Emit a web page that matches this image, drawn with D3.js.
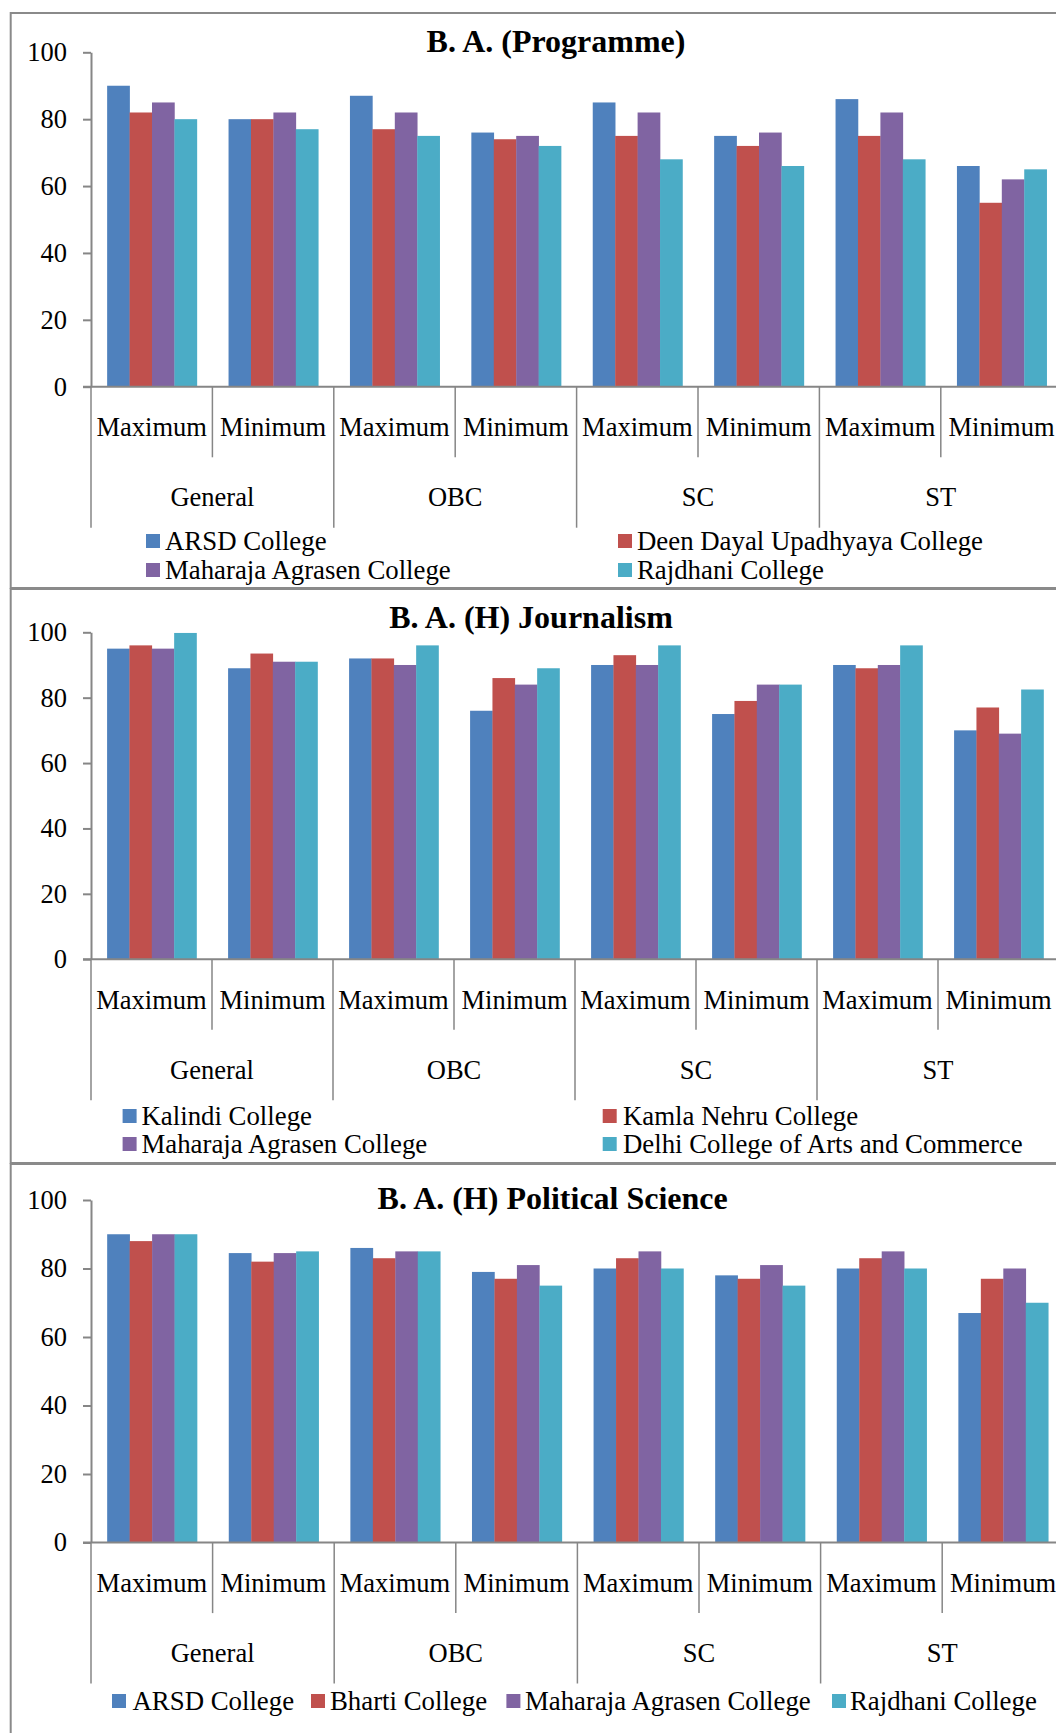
<!DOCTYPE html>
<html><head><meta charset="utf-8">
<script src="https://cdnjs.cloudflare.com/ajax/libs/d3/7.8.5/d3.min.js"></script>
<style>
html,body{margin:0;padding:0;background:#fff;}
svg{display:block;}
text{font-family:"Liberation Serif","Times New Roman",serif;fill:#000;}
</style></head>
<body>
<script>
// ---------- data ----------
const categories = ["General", "OBC", "SC", "ST"];
const subCategories = ["Maximum", "Minimum"];
const yTickValues = [0, 20, 40, 60, 80, 100];
const seriesColors = ["#4F81BD", "#C0504D", "#8064A2", "#4BACC6"];

const titleProgramme = "B. A. (Programme)";
const seriesProgramme = ["ARSD College", "Deen Dayal Upadhyaya College", "Maharaja Agrasen College", "Rajdhani College"];
const progARSD    = [90, 80, 87, 76, 85, 75, 86, 66];
const progDDU     = [82, 80, 77, 74, 75, 72, 75, 55];
const progMAC     = [85, 82, 82, 75, 82, 76, 82, 62];
const progRajdhani= [80, 77, 75, 72, 68, 66, 68, 65];

const titleJournalism = "B. A. (H) Journalism";
const seriesJournalism = ["Kalindi College", "Kamla Nehru College", "Maharaja Agrasen College", "Delhi College of Arts and Commerce"];
const jourKalindi = [95, 89, 92, 76, 90, 75, 90, 70];
const jourKamla   = [96, 93.5, 92, 86, 93, 79, 89, 77];
const jourMAC     = [95, 91, 90, 84, 90, 84, 90, 69];
const jourDCAC    = [99.8, 91, 96, 89, 96, 84, 96, 82.5];

const titlePolSci = "B. A. (H) Political Science";
const seriesPolSci = ["ARSD College", "Bharti College", "Maharaja Agrasen College", "Rajdhani College"];
const polARSD     = [90, 84.5, 86, 79, 80, 78, 80, 67];
const polBharti   = [88, 82, 83, 77, 83, 77, 83, 77];
const polMAC      = [90, 84.5, 85, 81, 85, 81, 85, 80];
const polRajdhani = [90, 85, 85, 75, 80, 75, 80, 70];

// ---------- drawing ----------
const W = 1056, H = 1733;
const svg = d3.select("body").append("svg").attr("width", W).attr("height", H);
const AXIS = "#868686";
const LABEL_FS = 26.5, LEGEND_FS = 26.8, TITLE_FS = 32;

const panels = [
  { title: titleProgramme, series: seriesProgramme, values: [progARSD, progDDU, progMAC, progRajdhani],
    box: [10.7, 13, 588], titleX: 556, titleY: 51.5,
    yTop: 52.3, yBot: 386.7, band: 121.4,
    legend: { rows: [[146, 165, 618, 637, 550], [146, 165, 618, 637, 579]] } },
  { title: titleJournalism, series: seriesJournalism, values: [jourKalindi, jourKamla, jourMAC, jourDCAC],
    box: [10.7, 589, 1163], titleX: 531, titleY: 628,
    yTop: 632.3, yBot: 959.2, band: 121.0,
    legend: { rows: [[122.6, 141.5, 602.7, 623, 1125], [122.6, 141.5, 602.7, 623, 1153]] } },
  { title: titlePolSci, series: seriesPolSci, values: [polARSD, polBharti, polMAC, polRajdhani],
    box: [10.7, 1164, 1760], titleX: 552.7, titleY: 1209.3,
    yTop: 1200, yBot: 1542.5, band: 121.6,
    legend: { single: [[112, 132.5], [311, 330], [506.4, 525], [832, 850]], y: 1710 } }
];

const keys = [];
categories.forEach(c => subCategories.forEach(s => keys.push(c + "|" + s)));

panels.forEach(p => {
  const g = svg.append("g");
  // panel border (right side lies outside the picture)
  g.append("rect").attr("x", p.box[0]).attr("y", p.box[1])
    .attr("width", 1100).attr("height", p.box[2] - p.box[1])
    .attr("fill", "none").attr("stroke", "#8a8a8a").attr("stroke-width", 2);

  const x0 = 91;
  const xCat = d3.scaleBand().domain(keys).range([x0, x0 + p.band * keys.length]).paddingInner(0).paddingOuter(0);
  const off = p.band * 0.133, gw = p.band * 0.739;
  const xSer = d3.scaleBand().domain(d3.range(4)).range([off, off + gw]).padding(0);
  const y = d3.scaleLinear().domain([0, 100]).range([p.yBot, p.yTop]);

  // bars
  p.values.forEach((vals, si) => {
    g.append("g").selectAll("rect").data(vals).join("rect")
      .attr("x", (d, i) => xCat(keys[i]) + xSer(si))
      .attr("width", xSer.bandwidth() + 0.3)
      .attr("y", d => y(d))
      .attr("height", d => y(0) - y(d))
      .attr("fill", seriesColors[si]);
  });

  // y axis
  const ya = g.append("g").attr("transform", `translate(${x0},0)`)
    .call(d3.axisLeft(y).tickValues(yTickValues).tickSize(8).tickSizeOuter(0).tickPadding(16));
  ya.attr("font-family", null).attr("font-size", null);
  ya.select(".domain").attr("stroke", AXIS).attr("stroke-width", 2);
  ya.selectAll(".tick line").attr("stroke", AXIS).attr("stroke-width", 2);
  ya.selectAll(".tick text").attr("font-size", LABEL_FS).attr("font-family", "Liberation Serif").attr("fill", "#000");

  // x axis line
  g.append("line").attr("x1", x0 - 8).attr("x2", 1100).attr("y1", p.yBot).attr("y2", p.yBot)
    .attr("stroke", AXIS).attr("stroke-width", 2);

  // dividers
  const shortLen = 70.6, longLen = 141;
  d3.range(keys.length + 1).forEach(i => {
    const xx = i < keys.length ? xCat(keys[i]) : xCat(keys[keys.length - 1]) + p.band;
    g.append("line").attr("x1", xx).attr("x2", xx)
      .attr("y1", p.yBot).attr("y2", p.yBot + (i % 2 === 0 ? longLen : shortLen))
      .attr("stroke", AXIS).attr("stroke-width", 1.5);
  });

  // sub-category labels
  g.append("g").selectAll("text").data(keys).join("text")
    .attr("x", k => xCat(k) + p.band / 2)
    .attr("y", p.yBot + 49.5)
    .attr("text-anchor", "middle").attr("font-size", LABEL_FS)
    .text(k => k.split("|")[1]);

  // category labels
  g.append("g").selectAll("text").data(categories).join("text")
    .attr("x", (c, i) => xCat(c + "|" + subCategories[0]) + p.band)
    .attr("y", p.yBot + 119.5)
    .attr("text-anchor", "middle").attr("font-size", LABEL_FS)
    .text(c => c);

  // title
  g.append("text").attr("x", p.titleX).attr("y", p.titleY)
    .attr("text-anchor", "middle").attr("font-size", TITLE_FS).attr("font-weight", "bold")
    .text(p.title);

  // legend
  const sw = 14;
  if (p.legend.rows) {
    p.legend.rows.forEach((r, ri) => {
      [0, 1].forEach(ci => {
        const si = ri * 2 + ci;
        const sx = r[ci * 2], tx = r[ci * 2 + 1], by = r[4];
        g.append("rect").attr("x", sx).attr("y", by - 16).attr("width", sw).attr("height", sw)
          .attr("fill", seriesColors[si]);
        g.append("text").attr("x", tx).attr("y", by).attr("font-size", LEGEND_FS).text(p.series[si]);
      });
    });
  } else {
    p.legend.single.forEach((r, si) => {
      g.append("rect").attr("x", r[0]).attr("y", p.legend.y - 16).attr("width", sw).attr("height", sw)
        .attr("fill", seriesColors[si]);
      g.append("text").attr("x", r[1]).attr("y", p.legend.y).attr("font-size", LEGEND_FS).text(p.series[si]);
    });
  }
});
</script>
</body></html>
